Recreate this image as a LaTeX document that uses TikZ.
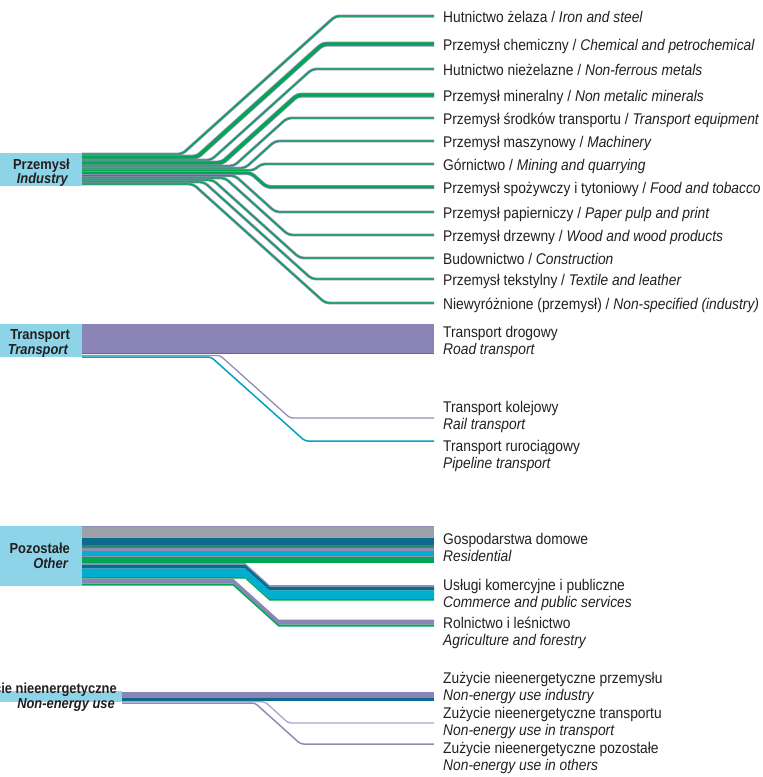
\documentclass[tikz,border=0pt]{standalone}
\usepackage{fontspec}
\setmainfont{Liberation Sans}[FakeStretch=0.89]
\definecolor{boxblue}{HTML}{8DD4E8}
\definecolor{purp}{HTML}{8B84B7}
\definecolor{gp}{HTML}{8E8DB5}
\definecolor{grn}{HTML}{00A651}
\definecolor{teal}{HTML}{0B6A8E}
\definecolor{cyan}{HTML}{00AECF}
\definecolor{gry}{HTML}{9CA2AA}
\definecolor{dgrn}{HTML}{2A8C60}
\definecolor{lav}{HTML}{A9A5D0}
\definecolor{txt}{HTML}{231F20}
\begin{document}
\begin{tikzpicture}[x=1pt,y=-1pt,
  lbl/.style={anchor=base west, inner sep=0pt, text=txt, font=\fontsize{15.5}{17}\selectfont},
  llbl/.style={anchor=base east, inner sep=0pt, text=txt, font=\fontsize{14.5}{17}\selectfont\bfseries},
  catbox/.style={fill=boxblue, draw=none, inner sep=0pt, anchor=north west},
  branch/.style={draw=gp, line width=0.8pt, double=grn, rounded corners=4pt},
  thinflow/.style={line width=1.4pt, rounded corners=3pt},
]
\useasboundingbox (0,0) rectangle (763,777);
\clip (0,0) rectangle (763,777);

% ---------------- Industry ----------------
\node[catbox, minimum width=82pt, minimum height=33pt] (indbox) at (0,153) {};
\node[llbl] (ind1) at (70,169.5) {Przemysł};
\node[llbl] (ind2) at (68,183.5) {\itshape Industry};

\foreach \i/\s/\xd/\ye/\w in {1/154.2/182/16/3.0, 2/157.2/197/44/5.0, 3/160.1/211/69/2.8, 4/163.0/222/95/5.0, 5/165.9/234/118/2.8, 6/168.1/245/141/2.8, 7/170.3/254/164/2.8, 8/173.0/251/187/4.0, 9/175.7/235/212/2.8, 10/177.9/225/235/2.8, 11/180.0/213/258/2.8, 12/182.0/204/279/2.8, 13/184.0/193/303/2.8}
{
  \pgfmathsetmacro\xe{\xd+abs(\s-\ye)/0.9}
  \pgfmathsetmacro\dd{\w-1.6}
  \coordinate (ie\i) at (434,\ye);
  \draw[branch, double distance=\dd pt] (82,\s) -- (\xd,\s) -- (\xe,\ye) -- (ie\i);
}

\node[lbl] (il1) at (443,22.5) {Hutnictwo żelaza / \textit{Iron and steel}};
\node[lbl] (il2) at (443,50.5) {Przemysł chemiczny / \textit{Chemical and petrochemical}};
\node[lbl] (il3) at (443,75.5) {Hutnictwo nieżelazne / \textit{Non-ferrous metals}};
\node[lbl] (il4) at (443,101.5) {Przemysł mineralny / \textit{Non metalic minerals}};
\node[lbl] (il5) at (443,124.5) {Przemysł środków transportu / \textit{Transport equipment}};
\node[lbl] (il6) at (443,147.5) {Przemysł maszynowy / \textit{Machinery}};
\node[lbl] (il7) at (443,170.5) {Górnictwo / \textit{Mining and quarrying}};
\node[lbl] (il8) at (443,193.5) {Przemysł spożywczy i tytoniowy / \textit{Food and tobacco}};
\node[lbl] (il9) at (443,218.5) {Przemysł papierniczy / \textit{Paper pulp and print}};
\node[lbl] (il10) at (443,241.5) {Przemysł drzewny / \textit{Wood and wood products}};
\node[lbl] (il11) at (443,264.5) {Budownictwo / \textit{Construction}};
\node[lbl] (il12) at (443,285.5) {Przemysł tekstylny / \textit{Textile and leather}};
\node[lbl] (il13) at (443,309.5) {Niewyróżnione (przemysł) / \textit{Non-specified (industry)}};

% ---------------- Transport ----------------
\node[catbox, minimum width=82pt, minimum height=33pt] (trbox) at (0,324) {};
\node[llbl] (tr1) at (70,339.5) {Transport};
\node[llbl] (tr2) at (68,354) {\itshape Transport};
\fill[purp] (82,324) rectangle (434,353);
\draw[grn, line width=1.2pt] (82,353.6) -- (434,353.6);
\coordinate (te1) at (434,418);
\coordinate (te2) at (434,441);
\draw[thinflow, gp, line width=1.3pt] (82,355.4) -- (220,355.4) -- (290,418) -- (te1);
\draw[thinflow, cyan!80!teal, line width=1.5pt] (82,357) -- (211,357) -- (305,441) -- (te2);

\node[lbl] (tl1) at (443,337) {Transport drogowy};
\node[lbl] (tl1e) at (443,354) {\textit{Road transport}};
\node[lbl] (tl2) at (443,412) {Transport kolejowy};
\node[lbl] (tl2e) at (443,429) {\textit{Rail transport}};
\node[lbl] (tl3) at (443,451) {Transport rurociągowy};
\node[lbl] (tl3e) at (443,468) {\textit{Pipeline transport}};

% ---------------- Other ----------------
\node[catbox, minimum width=82pt, minimum height=60pt] (otbox) at (0,526) {};
\node[llbl] (ot1) at (70,553) {Pozostałe};
\node[llbl] (ot2) at (68,568) {\itshape Other};
% residential
\fill[gp]   (82,525.6) rectangle (434,527);
\fill[gry]  (82,527) rectangle (434,538);
\fill[teal] (82,538) rectangle (434,545);
\fill[dgrn] (82,545) rectangle (434,548);
\fill[gp]   (82,548) rectangle (434,551);
\fill[cyan] (82,551) rectangle (434,555.5);
\fill[gp]   (82,555.5) rectangle (434,556.5);
\fill[grn]  (82,556.5) rectangle (434,563);
% commerce (kink 245, drop 22)
\foreach \a/\b/\c in {563/564.6/gp, 564.6/568.5/teal, 568.5/577/cyan, 577/578.5/grn}
  \fill[\c] (82,\a) -- (245,\a) -- ({245+22/0.9},{\a+22}) -- (434,{\a+22}) -- (434,{\b+22}) -- ({245+22/0.9},{\b+22}) -- (245,\b) -- (82,\b) -- cycle;
% agriculture (kink 233, drop 41)
\foreach \a/\b/\c in {578.5/583.5/purp, 583.5/585.6/grn}
  \fill[\c] (82,\a) -- (233,\a) -- ({233+41/0.9},{\a+41}) -- (434,{\a+41}) -- (434,{\b+41}) -- ({233+41/0.9},{\b+41}) -- (233,\b) -- (82,\b) -- cycle;

\node[lbl] (ol1) at (443,544) {Gospodarstwa domowe};
\node[lbl] (ol1e) at (443,561.5) {\textit{Residential}};
\node[lbl] (ol2) at (443,590) {Usługi komercyjne i publiczne};
\node[lbl] (ol2e) at (443,607) {\textit{Commerce and public services}};
\node[lbl] (ol3) at (443,628) {Rolnictwo i leśnictwo};
\node[lbl] (ol3e) at (443,645) {\textit{Agriculture and forestry}};

% ---------------- Non-energy ----------------
\node[catbox, minimum width=122pt, minimum height=11pt] (nebox) at (0,691) {};
\node[llbl] (ne1) at (117,693) {Zużycie nieenergetyczne};
\node[llbl] (ne2) at (115,708) {\itshape Non-energy use};
\fill[purp] (122,692) rectangle (434,698);
\fill[teal] (122,698) rectangle (434,701);
\coordinate (ne2e) at (434,723);
\coordinate (ne3e) at (434,744);
\draw[thinflow, gp, line width=1.5pt] (122,703) -- (255,703) -- ({255+41/0.9},744) -- (ne3e);
\draw[thinflow, lav, line width=1.3pt] (122,701.8) -- (265,701.8) -- ({265+21/0.9},723) -- (ne2e);

\node[lbl] (nl1) at (443,683) {Zużycie nieenergetyczne przemysłu};
\node[lbl] (nl1e) at (443,700.5) {\textit{Non-energy use industry}};
\node[lbl] (nl2) at (443,718) {Zużycie nieenergetyczne transportu};
\node[lbl] (nl2e) at (443,735.5) {\textit{Non-energy use in transport}};
\node[lbl] (nl3) at (443,753) {Zużycie nieenergetyczne pozostałe};
\node[lbl] (nl3e) at (443,770.5) {\textit{Non-energy use in others}};
\end{tikzpicture}
\end{document}
